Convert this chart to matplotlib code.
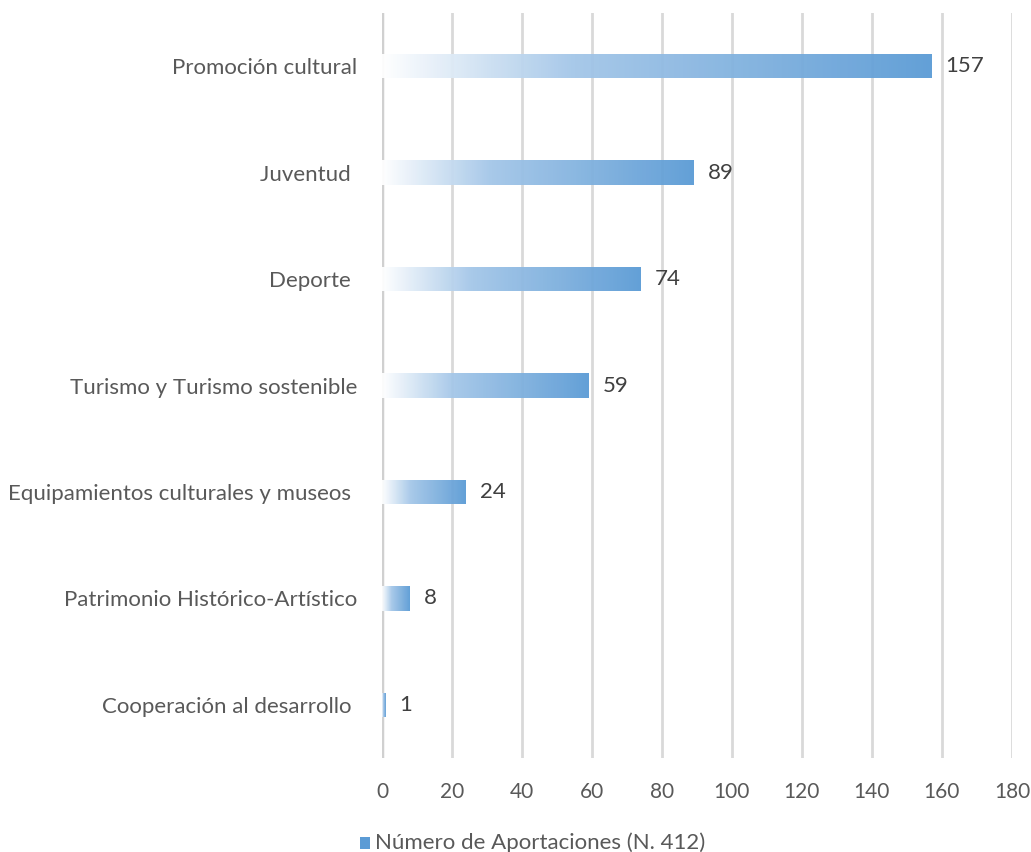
import numpy as np
import matplotlib
matplotlib.use("Agg")
import matplotlib.pyplot as plt
from matplotlib.colors import LinearSegmentedColormap

# chart data, top to bottom
categories = ["Promoción cultural", "Juventud ", "Deporte ", "Turismo y Turismo sostenible",
              "Equipamientos culturales y museos ", "Patrimonio Histórico-Artístico",
              "Cooperación al desarrollo "]
values = [157, 89, 74, 59, 24, 8, 1]
x_ticks = [0, 20, 40, 60, 80, 100, 120, 140, 160, 180]
legend_label = "Número de Aportaciones (N. 412)"

plt.rcParams['font.family'] = ['Lato', 'DejaVu Sans']

blue = "#5B9BD5"
grad_cmap = LinearSegmentedColormap.from_list(
    "bar_grad", [(0, "#FFFFFF"), (0.35, "#A3C6E8"), (1, blue)])
gradient = np.linspace(0, 1, 256).reshape(1, -1)

fig = plt.figure(figsize=(10.31, 8.52), dpi=100)
ax = fig.add_axes([0.3705, 0.1103, 0.611, 0.8744])

y_pos = np.arange(len(categories))
bars = ax.barh(y_pos, values, height=0.23, color="none", edgecolor="none", zorder=3)

# fill each bar with its own white-to-blue gradient
for bar, v in zip(bars, values):
    x0, y0 = bar.get_x(), bar.get_y()
    im = ax.imshow(gradient, extent=[x0, x0 + bar.get_width(), y0, y0 + bar.get_height()],
                   aspect="auto", cmap=grad_cmap, zorder=3, alpha=0.95)
    im.set_clip_path(bar)
    ax.text(v + 4, y0 + bar.get_height() / 2, str(v), va="center", ha="left",
            fontsize=16, color="#404040")

ax.set_xlim(0, 180)
ax.set_ylim(len(categories) - 0.5, -0.5)
ax.set_xticks(x_ticks)
ax.set_yticks(y_pos)
ax.set_yticklabels(categories)
ax.xaxis.grid(True, color="#D9D9D9", linewidth=2)
ax.set_axisbelow(True)
for s in ax.spines.values():
    s.set_visible(False)
ax.axvline(0, color="#D0D0D0", linewidth=2.5, zorder=2)
ax.tick_params(axis="both", length=0, labelsize=16, labelcolor="#595959")
ax.tick_params(axis="x", pad=17, labelsize=15)
ax.tick_params(axis="y", pad=18)

# legend below the chart
fig.patches.append(plt.Rectangle((0.349, 0.0035), 0.0095, 0.0145, transform=fig.transFigure,
                                 facecolor=blue, edgecolor="none"))
fig.text(0.3635, 0.011, legend_label, fontsize=16, color="#595959", va="center", ha="left")

fig.savefig("out.png", dpi=100, facecolor="white")
